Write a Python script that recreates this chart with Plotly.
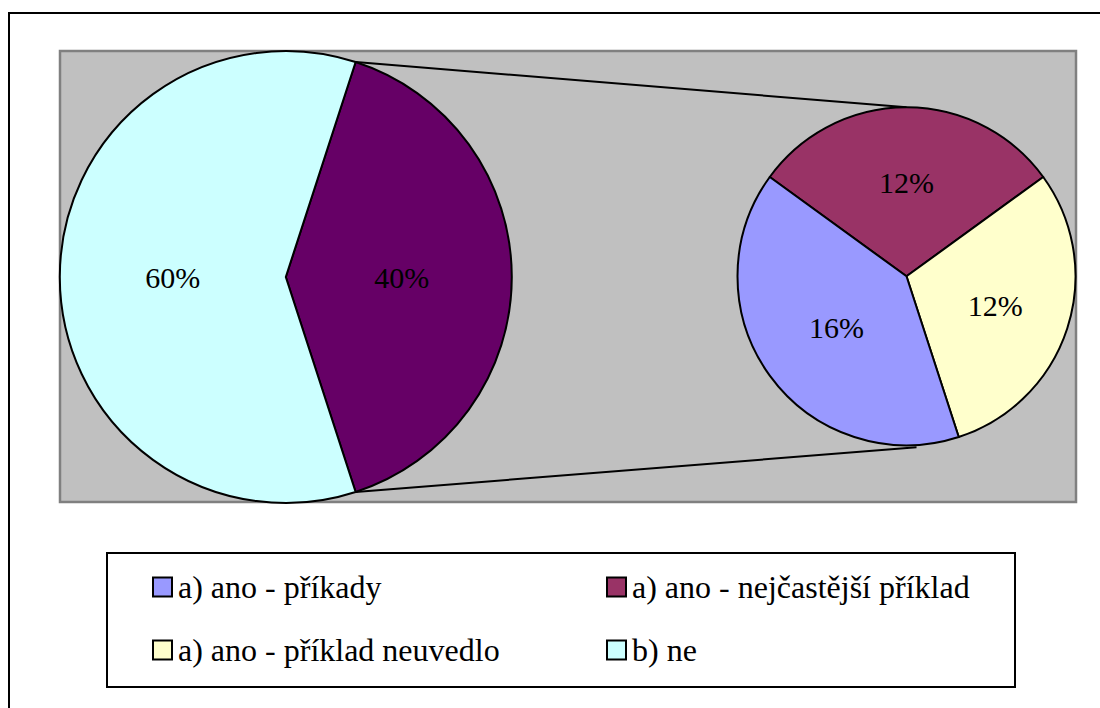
import math
import plotly.graph_objects as go

W, H = 1100, 708

# ---- data ----
detail_labels = ["a) ano - nejčastější příklad", "a) ano - příklad neuvedlo", "a) ano - příkady"]
detail_values = [12, 12, 16]
detail_colors = ["#993366", "#FFFFCC", "#9999FF"]

main_labels = ["a) ano", "b) ne"]
main_values = [sum(detail_values), 60]
main_colors = ["#660066", "#CCFFFF"]

legend_labels = ["a) ano - příkady", "a) ano - nejčastější příklad", "a) ano - příklad neuvedlo", "b) ne"]
legend_colors = ["#9999FF", "#993366", "#FFFFCC", "#CCFFFF"]

FONT = "'Times New Roman', 'Liberation Serif', 'DejaVu Serif', serif"


def px(x):
    return x / W


def py(y):
    return 1 - y / H


# geometry (pixels)
main_c = (285.8, 277.0)
main_r = 226.0
sec_c = (906.5, 276.3)
sec_r = 169.0

main_total = sum(main_values)
main_rot = 90 - 360 * main_values[0] / main_total / 2
sec_rot = -(360 * detail_values[0] / sum(detail_values)) / 2

fig = go.Figure()

fig.add_trace(go.Pie(
    labels=main_labels, values=main_values, sort=False, direction="clockwise",
    rotation=main_rot,
    marker=dict(colors=main_colors, line=dict(color="black", width=2)),
    texttemplate="%{value}%", textposition="inside", insidetextorientation="horizontal",
    textfont=dict(family=FONT, size=30, color="black"),
    domain=dict(x=[px(main_c[0] - main_r), px(main_c[0] + main_r)],
                y=[py(main_c[1] + main_r), py(main_c[1] - main_r)]),
    showlegend=False, hoverinfo="label+value",
))

fig.add_trace(go.Pie(
    labels=detail_labels, values=detail_values, sort=False, direction="clockwise",
    rotation=sec_rot,
    marker=dict(colors=detail_colors, line=dict(color="black", width=2)),
    texttemplate="%{value}%", textposition="inside", insidetextorientation="horizontal",
    textfont=dict(family=FONT, size=30, color="black"),
    domain=dict(x=[px(sec_c[0] - sec_r), px(sec_c[0] + sec_r)],
                y=[py(sec_c[1] + sec_r), py(sec_c[1] - sec_r)]),
    showlegend=False, hoverinfo="label+value",
))

shapes = []
# outer frame
shapes.append(dict(type="rect", xref="paper", yref="paper",
                   x0=px(9), x1=px(1120), y0=py(730), y1=py(13),
                   line=dict(color="black", width=2), fillcolor="rgba(0,0,0,0)", layer="below"))
# gray plot area
shapes.append(dict(type="rect", xref="paper", yref="paper",
                   x0=px(60), x1=px(1076), y0=py(502), y1=py(51),
                   line=dict(color="#808080", width=2.5), fillcolor="#C0C0C0", layer="below"))

# connector lines
a0 = math.radians(main_rot)
a1 = math.radians(main_rot + 360 * main_values[0] / main_total)
p_top = (main_c[0] + main_r * math.sin(a0), main_c[1] - main_r * math.cos(a0))
p_bot = (main_c[0] + main_r * math.sin(a1), main_c[1] - main_r * math.cos(a1))
s_top = (sec_c[0], sec_c[1] - sec_r)
s_bot = (sec_c[0] + 10, sec_c[1] + sec_r + 2)
for p, s in ((p_top, s_top), (p_bot, s_bot)):
    shapes.append(dict(type="line", xref="paper", yref="paper",
                       x0=px(p[0]), y0=py(p[1]), x1=px(s[0]), y1=py(s[1]),
                       line=dict(color="black", width=2), layer="below"))

# legend box
shapes.append(dict(type="rect", xref="paper", yref="paper",
                   x0=px(107), x1=px(1015), y0=py(687), y1=py(553),
                   line=dict(color="black", width=2), fillcolor="white"))

annotations = []
col_x = [153, 607]
row_y = [587, 650]
sq = 19
for i, (lab, col) in enumerate(zip(legend_labels, legend_colors)):
    cx = col_x[i % 2]
    cy = row_y[i // 2]
    shapes.append(dict(type="rect", xref="paper", yref="paper",
                       x0=px(cx), x1=px(cx + sq), y0=py(cy + sq / 2), y1=py(cy - sq / 2),
                       line=dict(color="black", width=2), fillcolor=col))
    annotations.append(dict(text=lab, xref="paper", yref="paper",
                            x=px(cx + sq + 4), y=py(cy), xanchor="left", yanchor="middle",
                            showarrow=False, font=dict(family=FONT, size=32, color="black")))

fig.update_layout(
    width=W, height=H,
    margin=dict(l=0, r=0, t=0, b=0),
    paper_bgcolor="white",
    plot_bgcolor="white",
    font=dict(family=FONT, size=30, color="black"),
    shapes=shapes,
    annotations=annotations,
    showlegend=False,
)

fig.write_html("out.html", config={"displayModeBar": False},
               post_script="document.body.style.margin='0';")
